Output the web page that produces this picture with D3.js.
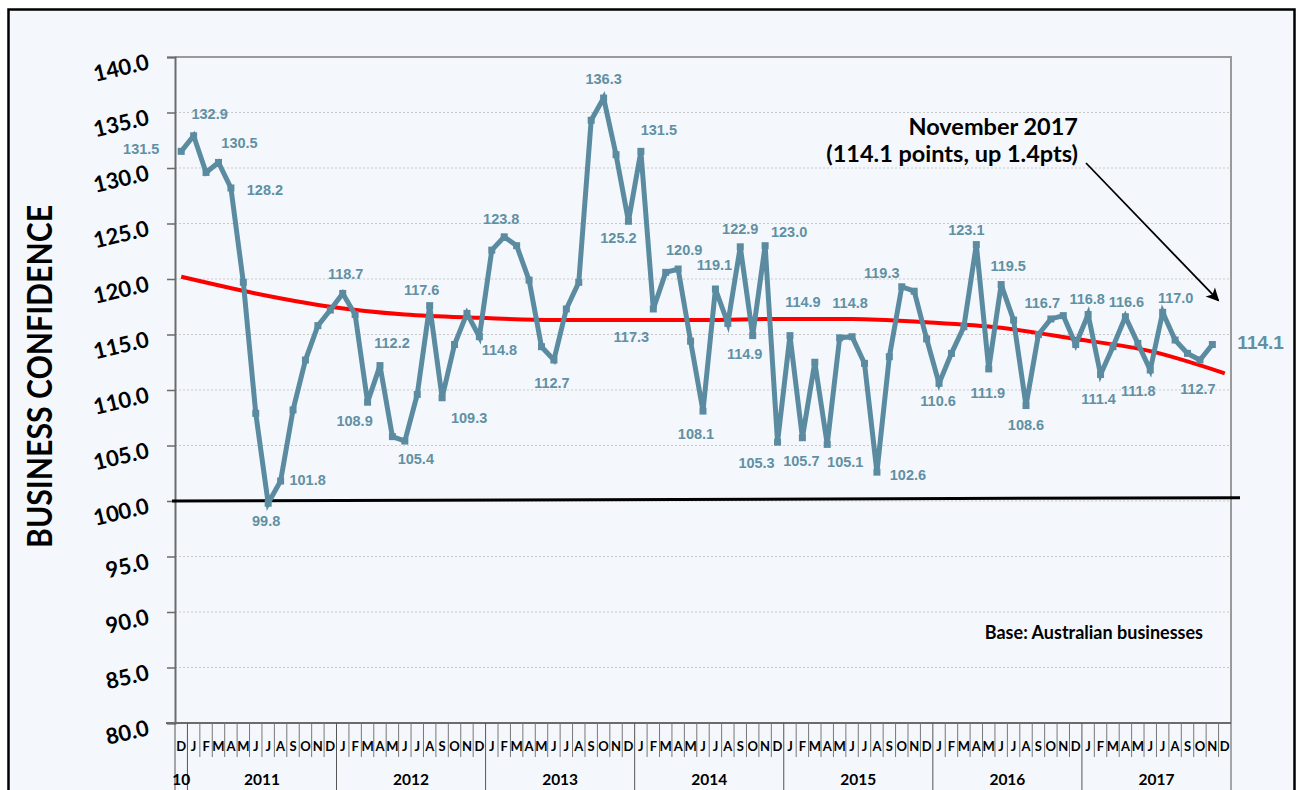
<!DOCTYPE html>
<html>
<head>
<meta charset="utf-8">
<script src="https://cdn.jsdelivr.net/npm/d3@7"></script>
<style>
  html, body { margin: 0; padding: 0; background: #fff; }
  svg { display: block; }
</style>
</head>
<body>
<svg id="chart" width="1302" height="790"></svg>
<script>
// Business confidence, monthly, Dec 2010 - Nov 2017

const monthLetters = ["J", "F", "M", "A", "M", "J", "J", "A", "S", "O", "N", "D"];
const yearLabels = ["10", "2011", "2012", "2013", "2014", "2015", "2016", "2017"];

const confidence = [
  131.5,
  132.9, 129.6, 130.5, 128.2, 119.7, 107.9, 99.8, 101.8, 108.2, 112.7, 115.8, 117.2,
  118.7, 116.8, 108.9, 112.2, 105.8, 105.4, 109.6, 117.6, 109.3, 114.1, 116.9, 114.8,
  122.6, 123.8, 123.0, 119.9, 113.9, 112.7, 117.3, 119.7, 134.3, 136.3, 131.2, 125.2,
  131.5, 117.3, 120.6, 120.9, 114.4, 108.1, 119.1, 116.0, 122.9, 114.9, 123.0, 105.3,
  114.9, 105.7, 112.5, 105.1, 114.7, 114.8, 112.4, 102.6, 113.0, 119.3, 118.9, 114.6,
  110.6, 113.3, 115.7, 123.1, 111.9, 119.5, 116.3, 108.6, 115.0, 116.4, 116.7, 114.1,
  116.8, 111.4, 113.9, 116.6, 114.2, 111.8, 117.0, 114.5, 113.3, 112.7, 114.1
];

// trend line (category index, value)
const trendIdx = [0, 6, 12, 18, 24, 30, 36, 42, 48, 54, 60, 66, 72, 78, 84];
const trendVal = [120.2, 118.7, 117.5, 116.8, 116.5, 116.3, 116.3, 116.3, 116.4, 116.4, 116.1, 115.6, 114.6, 113.5, 111.5];

const labelledIdx = [0, 1, 3, 4, 7, 8, 13, 15, 16, 18, 20, 21, 24, 26, 30, 34, 36, 37, 38, 40,
  42, 43, 45, 46, 47, 48, 49, 50, 52, 54, 56, 58, 61, 64, 65, 66, 68, 71, 73, 74, 76, 78, 79, 82];

const yTicks = [80, 85, 90, 95, 100, 105, 110, 115, 120, 125, 130, 135, 140];

// label nudges (px from the point), layout only
const labelNudge = {
  0: [-40, -2], 1: [16, -22], 3: [21, -19], 4: [34, 2], 7: [-2, 18], 8: [27, -1],
  13: [3, -19], 15: [-13, 19], 16: [12, -23], 18: [11, 18], 20: [-8, -16], 21: [27, 20],
  24: [20, 13], 26: [-3, -18], 30: [-2, 23], 34: [0, -19], 36: [-10, 17], 37: [18, -21],
  38: [-22, 28], 40: [6, -19], 42: [-7, 23], 43: [-1, -24], 45: [0, -18], 46: [-8, 18],
  47: [24, -14], 48: [-21, 21], 49: [13, -34], 50: [-1, 23], 52: [18, 18], 54: [-2, -34],
  56: [31, 3], 58: [-20, -14], 61: [-1, 18], 64: [-10, -15], 65: [-1, 24], 66: [7, -19],
  68: [0, 19], 71: [-21, -13], 73: [-1, -16], 74: [-2, 25], 76: [1, -15], 78: [-12, 21],
  79: [13, -14], 82: [-2, 29]
};

// categories: Dec 2010, then 7 full years
const categories = [{ m: "D", yr: 0 }];
for (let yr = 1; yr < yearLabels.length; yr++) {
  monthLetters.forEach(m => categories.push({ m, yr }));
}

const W = 1302, H = 790;
const pLeft = 175, pRight = 1231, pTop = 57, pBottom = 723;
const lineCol = "#5a8ba0", labelCol = "#6190a4";
const calibri = "Lato, 'Open Sans', sans-serif";
const arial = "'Liberation Sans', Arial, sans-serif";

const svg = d3.select("#chart");

svg.append("rect").attr("x", 0).attr("y", 0).attr("width", W).attr("height", H).attr("fill", "#fff");
svg.append("rect")
  .attr("x", 8.5).attr("y", 9.5).attr("width", 1286).attr("height", 820)
  .attr("fill", "#f4f8fc").attr("stroke", "#000").attr("stroke-width", 2.5);

const x = d3.scaleBand().domain(d3.range(categories.length)).range([pLeft, pRight]).padding(0);
const bw = x.bandwidth();
const cx = i => x(i) + bw / 2;
const y = d3.scaleLinear().domain([80, 140]).range([pBottom, pTop]);

// gridlines
svg.append("g")
  .selectAll("line")
  .data(yTicks.filter(v => v > 80 && v < 140))
  .enter().append("line")
  .attr("x1", pLeft).attr("x2", pRight)
  .attr("y1", d => y(d)).attr("y2", d => y(d))
  .attr("stroke", "#c9c9c9").attr("stroke-width", 1).attr("stroke-dasharray", "2,2");

// plot frame (top, right)
svg.append("path")
  .attr("d", `M${pLeft},${pTop}H${pRight}V${pBottom}`)
  .attr("fill", "none").attr("stroke", "#9a9a9a").attr("stroke-width", 2);

// y axis
const yAxis = svg.append("g")
  .attr("transform", `translate(${pLeft},0)`)
  .call(d3.axisLeft(y).tickValues(yTicks).tickSize(8).tickFormat(d3.format(".1f")));
yAxis.select(".domain").attr("stroke", "#6b6b6b").attr("stroke-width", 2);
yAxis.selectAll(".tick line").attr("stroke", "#6b6b6b").attr("stroke-width", 1.5);
yAxis.selectAll(".tick text")
  .attr("x", null).attr("dy", null)
  .attr("text-anchor", "end")
  .attr("dominant-baseline", "middle")
  .attr("transform", "translate(-26,6) rotate(-13)")
  .style("font-family", calibri).style("font-weight", 700).style("font-size", "22px")
  .attr("fill", "#000");

// y title
svg.append("text")
  .attr("transform", `translate(52,${(205 + 548) / 2}) rotate(-90)`)
  .attr("text-anchor", "middle")
  .attr("textLength", 343).attr("lengthAdjust", "spacingAndGlyphs")
  .style("font-family", calibri).style("font-weight", 700).style("font-size", "35px")
  .text("BUSINESS CONFIDENCE");

// x axis: baseline, month ticks, year separators
svg.append("line")
  .attr("x1", 166).attr("x2", pRight).attr("y1", pBottom).attr("y2", pBottom)
  .attr("stroke", "#6b6b6b").attr("stroke-width", 2);

const edges = d3.range(categories.length + 1);
const yearEdges = new Set([0, 1]);
for (let k = 1; k < yearLabels.length; k++) yearEdges.add(1 + k * 12);

svg.append("g")
  .selectAll("line")
  .data(edges)
  .enter().append("line")
  .attr("x1", i => pLeft + i * bw).attr("x2", i => pLeft + i * bw)
  .attr("y1", pBottom)
  .attr("y2", i => yearEdges.has(i) ? 792 : 757)
  .attr("stroke", i => yearEdges.has(i) ? "#555" : "#777")
  .attr("stroke-width", 1);

svg.append("g")
  .selectAll("text")
  .data(categories)
  .enter().append("text")
  .attr("x", (d, i) => cx(i))
  .attr("y", 751)
  .attr("text-anchor", "middle")
  .style("font-family", calibri).style("font-weight", 700).style("font-size", "13px")
  .text(d => d.m);

svg.append("g")
  .selectAll("text")
  .data(yearLabels)
  .enter().append("text")
  .attr("x", (d, k) => {
    const idx = d3.range(categories.length).filter(i => categories[i].yr === k);
    return (x(idx[0]) + x(idx[idx.length - 1]) + bw) / 2;
  })
  .attr("y", 785)
  .attr("text-anchor", "middle")
  .style("font-family", calibri).style("font-weight", 700).style("font-size", "15.5px")
  .text(d => d);

// 100 reference line
svg.append("line")
  .attr("x1", 172).attr("x2", 1240)
  .attr("y1", y(100)).attr("y2", y(100.3))
  .attr("stroke", "#000").attr("stroke-width", 3);

// trend
const trend = trendIdx.map((t, k) => [cx(t), y(trendVal[k])]);
svg.append("path")
  .attr("d", d3.line().curve(d3.curveMonotoneX)(trend))
  .attr("fill", "none").attr("stroke", "#ff0000").attr("stroke-width", 4);

// series
svg.append("path")
  .datum(confidence)
  .attr("d", d3.line().x((d, i) => cx(i)).y(d => y(d)))
  .attr("fill", "none").attr("stroke", lineCol).attr("stroke-width", 5)
  .attr("stroke-linejoin", "miter");

svg.append("g")
  .selectAll("rect")
  .data(confidence)
  .enter().append("rect")
  .attr("x", (d, i) => cx(i) - 3.5).attr("y", d => y(d) - 3.5)
  .attr("width", 7).attr("height", 7)
  .attr("fill", lineCol);

// data labels
svg.append("g")
  .selectAll("text")
  .data(labelledIdx)
  .enter().append("text")
  .attr("x", i => cx(i) + labelNudge[i][0])
  .attr("y", i => y(confidence[i]) + labelNudge[i][1])
  .attr("text-anchor", "middle")
  .attr("dominant-baseline", "central")
  .style("font-family", arial).style("font-weight", 700).style("font-size", "14.5px")
  .attr("fill", labelCol)
  .text(i => confidence[i].toFixed(1));

const last = confidence.length - 1;
svg.append("text")
  .attr("x", cx(last) + 25).attr("y", y(confidence[last]) - 2)
  .attr("dominant-baseline", "central")
  .style("font-family", arial).style("font-weight", 700).style("font-size", "19px")
  .attr("fill", labelCol)
  .text(confidence[last].toFixed(1));

// annotation
svg.append("defs").append("marker")
  .attr("id", "arrow").attr("viewBox", "0 0 10 10")
  .attr("refX", 9).attr("refY", 5)
  .attr("markerWidth", 15).attr("markerHeight", 13)
  .attr("markerUnits", "userSpaceOnUse")
  .attr("orient", "auto")
  .append("path").attr("d", "M0,0L10,5L0,10L2.5,5Z").attr("fill", "#000");

svg.append("g")
  .style("font-family", calibri).style("font-weight", 700).style("font-size", "23.5px")
  .attr("text-anchor", "end")
  .call(g => {
    g.append("text").attr("x", 1078).attr("y", 135).text("November 2017");
    g.append("text").attr("x", 1078).attr("y", 162).text("(114.1 points, up 1.4pts)");
  });

svg.append("line")
  .attr("x1", 1086).attr("y1", 163)
  .attr("x2", cx(last) + 6).attr("y2", y(confidence[last]) - 44)
  .attr("stroke", "#000").attr("stroke-width", 1.8)
  .attr("marker-end", "url(#arrow)");

svg.append("text")
  .attr("x", 1203).attr("y", 639)
  .attr("text-anchor", "end")
  .style("font-family", calibri).style("font-weight", 700).style("font-size", "18px")
  .text("Base: Australian businesses");
</script>
</body>
</html>
